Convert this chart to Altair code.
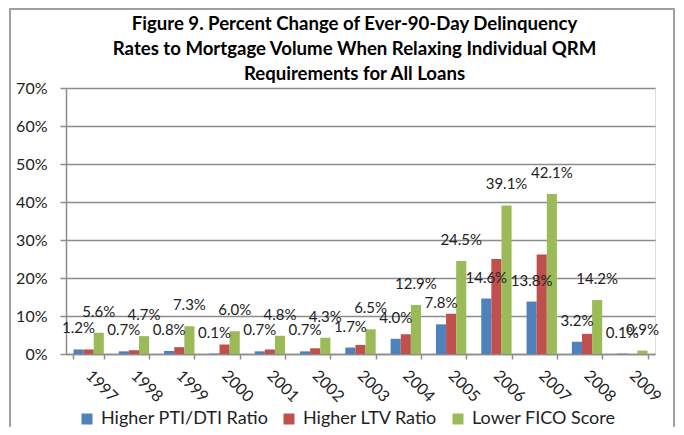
import altair as alt
import pandas as pd

years = ['1997', '1998', '1999', '2000', '2001', '2002', '2003',
         '2004', '2005', '2006', '2007', '2008', '2009']
series = ['Higher PTI/DTI Ratio', 'Higher LTV Ratio', 'Lower FICO Score']
pti = [1.2, 0.7, 0.8, 0.1, 0.7, 0.7, 1.7, 4.0, 7.8, 14.6, 13.8, 3.2, 0.1]
ltv = [1.2, 1.0, 1.8, 2.5, 1.2, 1.5, 2.4, 5.2, 10.6, 25.0, 26.2, 5.3, 0.0]
fico = [5.6, 4.7, 7.3, 6.0, 4.8, 4.3, 6.5, 12.9, 24.5, 39.1, 42.1, 14.2, 0.9]
labelled = ['Higher PTI/DTI Ratio', 'Lower FICO Score']
colors = ['#4F81BD', '#C0504D', '#9BBB59']
y_ticks = [0, 10, 20, 30, 40, 50, 60, 70]
title_lines = ['Figure 9. Percent Change of Ever-90-Day Delinquency',
               'Rates to Mortgage Volume When Relaxing Individual QRM',
               'Requirements for All Loans']

rows = []
for i, y in enumerate(years):
    for s, vals in zip(series, [pti, ltv, fico]):
        rows.append({'year': y, 'series': s, 'value': vals[i],
                     'label': f"{vals[i]:.1f}%", 'show': s in labelled})
df = pd.DataFrame(rows)

FONT = 'Lato'
GRID = '#8c8c8c'

x_scale = alt.Scale(domain=years, paddingInner=0.33, paddingOuter=0.165)
y_scale = alt.Scale(domain=[0, 70], nice=False)
xo = alt.XOffset('series:N', sort=series, scale=alt.Scale(paddingInner=0, paddingOuter=0))

x_axis = alt.Axis(labelAngle=45, labelAlign='left', labelBaseline='top',
                  labelPadding=8, labelOffset=5, tickBand='extent', tickSize=5,
                  domainColor=GRID, tickColor=GRID, domainWidth=1.5,
                  tickWidth=1.5, labelFontSize=16, labelColor='#222',
                  labelFont=FONT, grid=False, labelOverlap=False, title=None)
y_axis = alt.Axis(values=y_ticks, tickCount=8, labelExpr="datum.value + '%'",
                  grid=True, gridColor=GRID, gridWidth=1.5, domainColor=GRID,
                  domainWidth=1.5, tickColor=GRID, tickWidth=1.5,
                  tickSize=6, labelPadding=13, labelFontSize=16,
                  labelColor='#222', labelFont=FONT, labelOverlap=False, title=None)

color = alt.Color('series:N', sort=series,
                  scale=alt.Scale(domain=series, range=colors),
                  legend=alt.Legend(title=None, orient='none', direction='horizontal',
                                    legendX=12, legendY=322, symbolType='square',
                                    symbolSize=121, symbolStrokeWidth=0,
                                    labelFontSize=18, labelFont=FONT,
                                    labelColor='#222', columnPadding=11,
                                    labelOffset=5, labelLimit=0))

bars = alt.Chart(df).mark_bar().encode(
    x=alt.X('year:N', sort=years, title=None, scale=x_scale, axis=x_axis),
    xOffset=xo,
    y=alt.Y('value:Q', title=None, scale=y_scale, axis=y_axis),
    color=color)

texts = alt.Chart(df).transform_filter('datum.show').mark_text(
    baseline='alphabetic', dy=-16, fontSize=15, font=FONT, color='#222'
).encode(x=alt.X('year:N', sort=years, title=None, scale=x_scale, axis=x_axis),
         xOffset=xo,
         y=alt.Y('value:Q', title=None, scale=y_scale, axis=y_axis),
         text='label:N')

frame = alt.Chart(pd.DataFrame({'a': [0]})).mark_rect(
    fillOpacity=0, stroke='#a0a0a0', strokeWidth=2
).encode(x=alt.value(-56), x2=alt.value(608), y=alt.value(-79), y2=alt.value(420))

chart = alt.layer(bars, texts, frame).properties(
    width=589, height=266,
    autosize=alt.AutoSizeParams(type='none'),
    padding={'left': 58, 'top': 80, 'right': 21, 'bottom': 73},
    title=alt.TitleParams(
        text=title_lines, fontSize=18.6, font=FONT, fontWeight='bold',
        lineHeight=25, anchor='middle', dx=-6, offset=-76, color='#000')
).configure_view(stroke=None).configure(background='white')

chart.save('out.html', embed_options={'renderer': 'svg', 'actions': False})
